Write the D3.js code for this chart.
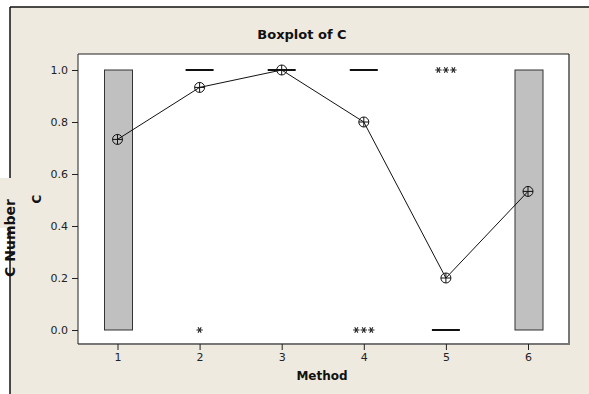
<!DOCTYPE html>
<html>
<head>
<meta charset="utf-8">
<script src="https://cdn.jsdelivr.net/npm/d3@7"></script>
<style>
  body { margin: 0; background: #fff; }
  svg text { font-family: "DejaVu Sans", sans-serif; }
</style>
</head>
<body>
<div id="chart"></div>
<script>
// Data
var methods = [1, 2, 3, 4, 5, 6];
var q1 = [0, 1, 1, 1, 0, 0];
var q3 = [1, 1, 1, 1, 0, 1];
var means = [0.733, 0.933, 1.0, 0.8, 0.2, 0.533];
var outlierMethod = [2, 4, 5];
var outlierValue = [0, 0, 1];
var outlierCount = [1, 3, 3];
var yTicks = [0, 0.2, 0.4, 0.6, 0.8, 1.0];

var width = 589, height = 394;

var svg = d3.select("#chart").append("svg")
    .attr("width", width)
    .attr("height", height);

// figure background + border
svg.append("rect")
    .attr("x", 10).attr("y", 7)
    .attr("width", width - 10).attr("height", height - 7)
    .attr("fill", "#eeeae0");
svg.append("line")
    .attr("x1", 10).attr("x2", width).attr("y1", 7).attr("y2", 7)
    .attr("stroke", "#111").attr("stroke-width", 1.5);
svg.append("line")
    .attr("x1", 10).attr("x2", 10).attr("y1", 7).attr("y2", height)
    .attr("stroke", "#111").attr("stroke-width", 1.5);

// plot area
var plot = { left: 78, top: 54, right: 569, bottom: 344 };

svg.append("rect")
    .attr("x", plot.left).attr("y", plot.top)
    .attr("width", plot.right - plot.left).attr("height", plot.bottom - plot.top)
    .attr("fill", "#fff");
svg.append("path")
    .attr("d", "M" + plot.right + "," + plot.top + "V" + plot.bottom + "H" + plot.left)
    .attr("fill", "none").attr("stroke", "#777").attr("stroke-width", 2);
svg.append("path")
    .attr("d", "M" + plot.left + "," + plot.bottom + "V" + plot.top + "H" + plot.right)
    .attr("fill", "none").attr("stroke", "#222").attr("stroke-width", 1);

var x = d3.scaleLinear().domain([1, 6]).range([117.5, 528]);
var y = d3.scaleLinear().domain([0, 1]).range([330, 70]);

// axes
var yAxis = svg.append("g")
    .attr("transform", "translate(" + plot.left + ",0)")
    .call(d3.axisLeft(y).tickValues(yTicks).tickFormat(d3.format(".1f")).tickSize(6).tickPadding(4));
yAxis.select(".domain").remove();

var xAxis = svg.append("g")
    .attr("transform", "translate(0," + plot.bottom + ")")
    .call(d3.axisBottom(x).tickValues(methods).tickFormat(d3.format("d")).tickSize(6).tickPadding(3));
xAxis.select(".domain").remove();

svg.selectAll(".tick line").attr("stroke", "#222");
svg.selectAll(".tick text")
    .attr("fill", "#222")
    .style("font-size", "11px")
    .style("font-family", "DejaVu Sans, sans-serif");

// boxes
var boxW = 28;
methods.forEach(function (m, i) {
    if (q3[i] > q1[i]) {
        svg.append("rect")
            .attr("x", x(m) - boxW / 2 + 1)
            .attr("y", y(q3[i]))
            .attr("width", boxW)
            .attr("height", y(q1[i]) - y(q3[i]))
            .attr("fill", "#c0c0c0")
            .attr("stroke", "#333")
            .attr("stroke-width", 1);
    } else {
        svg.append("line")
            .attr("x1", x(m) - boxW / 2).attr("x2", x(m) + boxW / 2)
            .attr("y1", y(q1[i])).attr("y2", y(q1[i]))
            .attr("stroke", "#111").attr("stroke-width", 2);
    }
});

// outliers
var star = d3.symbol().type(d3.symbolAsterisk).size(28);
outlierMethod.forEach(function (m, i) {
    var n = outlierCount[i];
    for (var k = 0; k < n; k++) {
        var dx = (k - (n - 1) / 2) * 7.5;
        svg.append("path")
            .attr("d", star())
            .attr("transform", "translate(" + (x(m) + dx) + "," + y(outlierValue[i]) + ") rotate(90)")
            .attr("fill", "none")
            .attr("stroke", "#222")
            .attr("stroke-width", 1.1);
    }
});

// mean connect line
var line = d3.line()
    .x(function (d, i) { return x(methods[i]); })
    .y(function (d) { return y(d); });
svg.append("path")
    .datum(means)
    .attr("d", line)
    .attr("fill", "none")
    .attr("stroke", "#111")
    .attr("stroke-width", 1);

// mean symbols
var r = 5;
means.forEach(function (d, i) {
    var g = svg.append("g")
        .attr("transform", "translate(" + x(methods[i]) + "," + y(d) + ")");
    g.append("circle").attr("r", r)
        .attr("fill", "none").attr("stroke", "#111").attr("stroke-width", 1);
    g.append("path")
        .attr("d", "M" + (-r) + ",0H" + r + "M0," + (-r) + "V" + r)
        .attr("stroke", "#111").attr("stroke-width", 1);
});

// title and labels
svg.append("text")
    .attr("x", 302).attr("y", 39)
    .attr("text-anchor", "middle")
    .style("font-size", "13px").style("font-weight", "bold")
    .attr("fill", "#111")
    .text("Boxplot of C");

svg.append("text")
    .attr("x", 322).attr("y", 380)
    .attr("text-anchor", "middle")
    .style("font-size", "12px").style("font-weight", "bold")
    .attr("fill", "#111")
    .text("Method");

svg.append("text")
    .attr("transform", "translate(41,199) rotate(-90)")
    .attr("text-anchor", "middle")
    .style("font-size", "12px").style("font-weight", "bold")
    .attr("fill", "#111")
    .text("C");

// stray label patch on the left edge
svg.append("rect")
    .attr("x", 0).attr("y", 178)
    .attr("width", 27).attr("height", 50)
    .attr("fill", "#eeeae0");
svg.append("text")
    .attr("transform", "translate(15,238) rotate(-90)")
    .attr("text-anchor", "middle")
    .style("font-size", "14px").style("font-weight", "bold")
    .attr("fill", "#111")
    .text("C Number");
</script>
</body>
</html>
